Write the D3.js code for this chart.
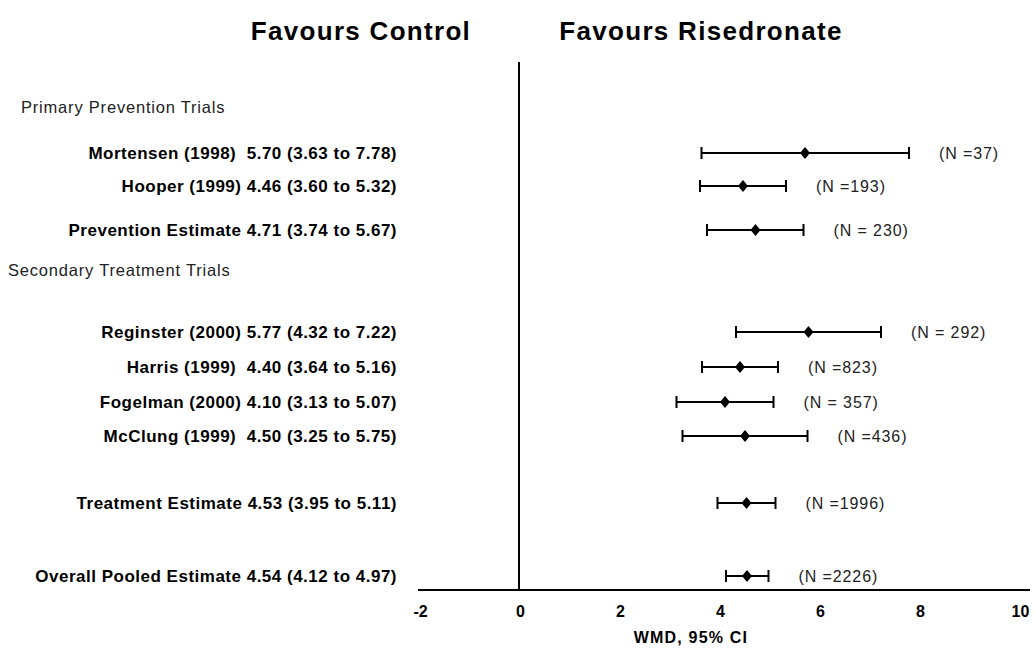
<!DOCTYPE html>
<html>
<head>
<meta charset="utf-8">
<script src="https://cdn.jsdelivr.net/npm/d3@7"></script>
<style>
  body { margin: 0; background: #fff; }
  svg { font-family: Arial, "Liberation Sans", sans-serif; }
</style>
</head>
<body>
<div id="chart"></div>
<script>
// ---------------  DATA  ---------------
const studies = ["Mortensen (1998)", "Hooper (1999)", "Prevention Estimate", "Reginster (2000)", "Harris (1999)", "Fogelman (2000)", "McClung (1999)", "Treatment Estimate", "Overall Pooled Estimate"];
const wmd = [5.70, 4.46, 4.71, 5.77, 4.40, 4.10, 4.50, 4.53, 4.54];
const lower = [3.63, 3.60, 3.74, 4.32, 3.64, 3.13, 3.25, 3.95, 4.12];
const upper = [7.78, 5.32, 5.67, 7.22, 5.16, 5.07, 5.75, 5.11, 4.97];
const labelGap = ["  ", " ", " ", " ", "  ", " ", "  ", " ", " "];
const nLabels = ["(N =37)", "(N =193)", "(N = 230)", "(N = 292)", "(N =823)", "(N = 357)", "(N =436)", "(N =1996)", "(N =2226)"];
const xTicks = [-2, 0, 2, 4, 6, 8, 10];

// layout: vertical position of each row (px)
const rowY = [153, 186, 230, 332, 367, 402, 436, 503, 576];

const w = 1034, h = 654;

const svg = d3.select("#chart").append("svg").attr("width", w).attr("height", h);

const x = d3.scaleLinear().domain([-2, 10]).range([420, 1020]);

// ------------  TITLES  ------------
svg.append("text").attr("x", 361).attr("y", 40).attr("text-anchor", "middle")
  .style("font-size", "26px").style("font-weight", "bold").style("letter-spacing", "1.3px")
  .text("Favours Control");
svg.append("text").attr("x", 701).attr("y", 40).attr("text-anchor", "middle")
  .style("font-size", "26px").style("font-weight", "bold").style("letter-spacing", "1.3px")
  .text("Favours Risedronate");

// section headers
svg.append("text").attr("x", 21).attr("y", 113).style("font-size", "16.5px").style("letter-spacing", "0.8px")
  .attr("fill", "#222").text("Primary Prevention Trials");
svg.append("text").attr("x", 8).attr("y", 276).style("font-size", "16.5px").style("letter-spacing", "0.8px")
  .attr("fill", "#222").text("Secondary Treatment Trials");

// ------------  AXIS  ------------
const axis = svg.append("g")
  .attr("transform", "translate(0,590)")
  .call(d3.axisBottom(x).tickValues(xTicks).tickSize(0).tickPadding(16).tickFormat((d) => String(d)))
  .attr("font-size", 16)
  .attr("font-family", "Arial, 'Liberation Sans', sans-serif")
  .attr("font-weight", "bold");
axis.select(".domain").attr("stroke", "#000").attr("stroke-width", 2)
  .attr("d", "M" + (x(-2) - 2) + ",0H" + (x(10) + 10));
axis.selectAll("text").attr("fill", "#000");

svg.append("text").attr("x", 691).attr("y", 643).attr("text-anchor", "middle")
  .style("font-size", "16px").style("font-weight", "bold").style("letter-spacing", "1.2px")
  .text("WMD, 95% CI");

// zero line
svg.append("line").attr("x1", x(0) - 1).attr("x2", x(0) - 1).attr("y1", 62).attr("y2", 590)
  .attr("stroke", "#000").attr("stroke-width", 2);

// ------------  ROWS  ------------
const rows = svg.selectAll("g.row").data(studies).enter().append("g").attr("class", "row")
  .attr("transform", (d, i) => "translate(0," + rowY[i] + ")");

rows.append("text").attr("x", 397).attr("y", 6).attr("text-anchor", "end")
  .style("font-size", "17px").style("font-weight", "bold").style("letter-spacing", "0.5px")
  .style("white-space", "pre")
  .text((d, i) => d + labelGap[i] + wmd[i].toFixed(2) + " (" + lower[i].toFixed(2) + " to " + upper[i].toFixed(2) + ")");

rows.append("line").attr("x1", (d, i) => x(lower[i])).attr("x2", (d, i) => x(upper[i]))
  .attr("y1", 0).attr("y2", 0).attr("stroke", "#000").attr("stroke-width", 2);
rows.append("line").attr("x1", (d, i) => x(lower[i])).attr("x2", (d, i) => x(lower[i]))
  .attr("y1", -6).attr("y2", 6).attr("stroke", "#000").attr("stroke-width", 2);
rows.append("line").attr("x1", (d, i) => x(upper[i])).attr("x2", (d, i) => x(upper[i]))
  .attr("y1", -6).attr("y2", 6).attr("stroke", "#000").attr("stroke-width", 2);
rows.append("path")
  .attr("d", (d, i) => { const cx = x(wmd[i]); return "M" + (cx - 5) + ",0L" + cx + ",-6L" + (cx + 5) + ",0L" + cx + ",6Z"; })
  .attr("fill", "#000");

rows.append("text").attr("x", (d, i) => x(upper[i]) + 30).attr("y", 6)
  .style("font-size", "16px").style("letter-spacing", "0.9px").attr("fill", "#222")
  .style("white-space", "pre")
  .text((d, i) => nLabels[i]);
</script>
</body>
</html>
